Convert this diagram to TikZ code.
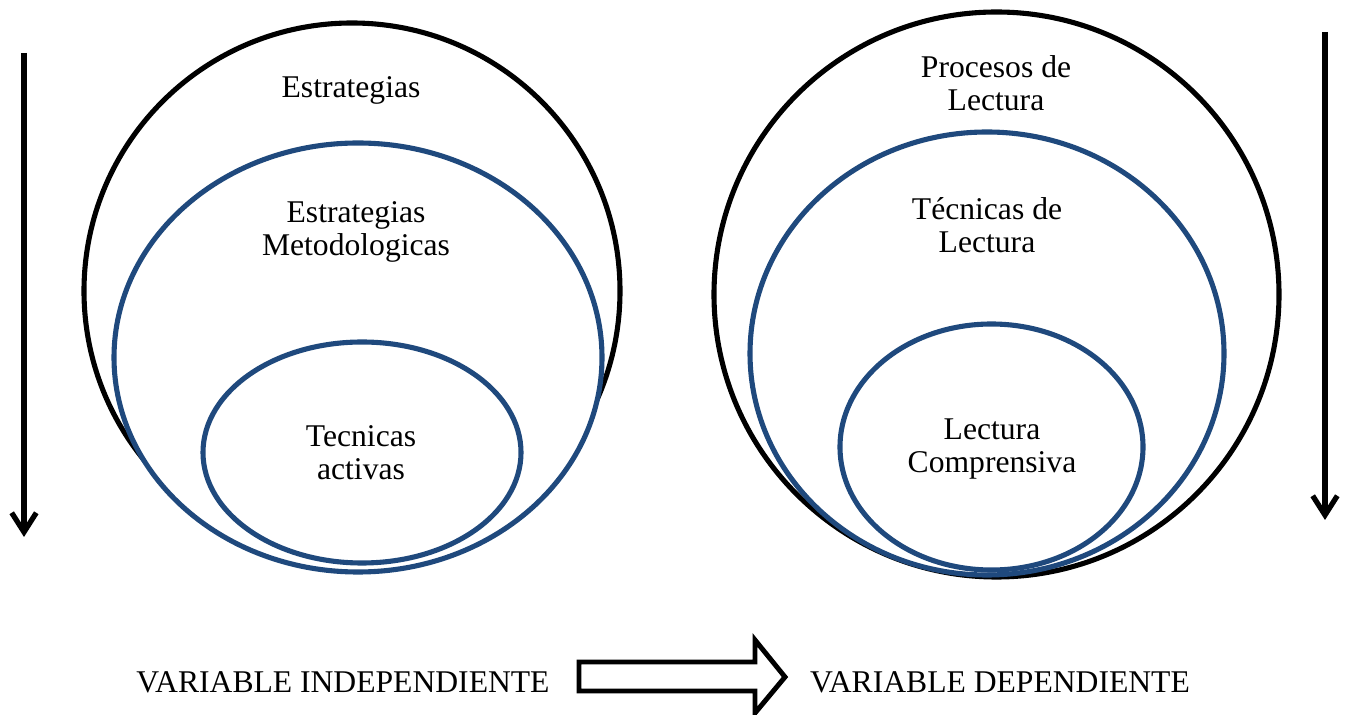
\documentclass[tikz,border=0pt]{standalone}
\usepackage{fontspec}
\setmainfont{Liberation Serif}
\usetikzlibrary{arrows.meta, positioning}
\definecolor{setblue}{HTML}{1F497D}
\tikzset{
    outerset/.style={draw=black, line width=2.9pt}, % the big black circles
    innerset/.style={draw=setblue, line width=2.9pt, fill=white}, % the nested blue ellipses, they hide what lies under them
    lbl/.style={align=center, inner sep=0pt, font=\fontsize{18}{18.7}\selectfont}, % text inside the sets
    downarrow/.style={line width=3pt, -{Straight Barb[length=11pt, width=14pt]}}, % the two side arrows
    blockarrow/.style={draw, line width=2.8pt, line join=miter}, % hollow arrow between the variables
}

\begin{document}
\begin{tikzpicture}[x=0.02cm, y=-0.02cm]
            \useasboundingbox (0,0) rectangle (1349,715);

            % left: independent variable
            \draw[outerset] (352,291) circle [radius=268];
            \draw[innerset] (358,357.5) ellipse [x radius=244, y radius=214.5];
            \draw[innerset] (362,452.5) ellipse [x radius=159, y radius=110.5];

            % right: dependent variable
            \draw[outerset] (996.5,294.5) circle [radius=282.5];
            \draw[innerset] (987,353.5) ellipse [x radius=237, y radius=221.5];
            \draw[innerset] (991.5,447) ellipse [x radius=151.5, y radius=123];

            \node[lbl] (estr) at (351,90) {Estrategias};
            \node[lbl] (estrmet) at (356,232) {Estrategias\\Metodologicas};
            \node[lbl] (tecact) at (361,453) {Tecnicas\\activas};

            \node[lbl] (proc) at (996,83) {Procesos de\\Lectura};
            \node[lbl] (teclec) at (987,225) {Técnicas de\\Lectura};
            \node[lbl] (leccomp) at (992,449) {Lectura\\Comprensiva};

            \node[lbl] (vi) at (343,682) {VARIABLE INDEPENDIENTE};
            \node[lbl] (vd) at (1000,682) {VARIABLE DEPENDIENTE};

            \coordinate (ltop) at (24,53);
            \coordinate (lend) at (24,537);
            \coordinate (rtop) at (1325,32);
            \coordinate (rend) at (1325,520);
            \draw[downarrow] (ltop) -- (lend);
            \draw[downarrow] (rtop) -- (rend);

            \draw[blockarrow] (579,662) -- (755,662) -- (755,640) -- (785,677)
                              -- (755,713) -- (755,691) -- (579,691) -- cycle;
        \end{tikzpicture}
\end{document}
